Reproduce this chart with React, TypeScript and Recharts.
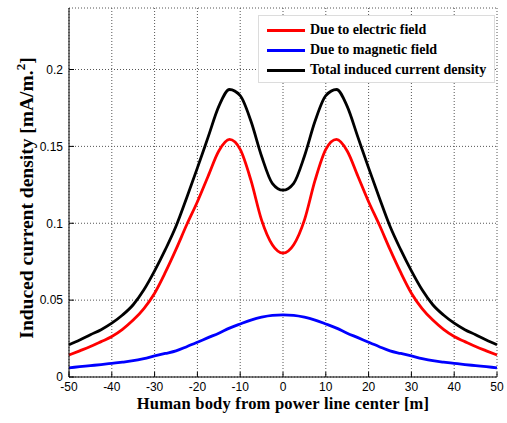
import {
  CartesianGrid,
  Legend,
  Line,
  LineChart,
  XAxis,
  YAxis,
} from "recharts";

const distances = [
  -50, -47.5, -45, -42.5, -40, -37.5, -35, -32.5, -30, -27.5, -25, -22.5, -20, -17.5, -15, -12.5, -10, -7.5, -5, -2.5,
  0, 2.5, 5, 7.5, 10, 12.5, 15, 17.5, 20, 22.5, 25, 27.5, 30, 32.5, 35, 37.5, 40, 42.5, 45, 47.5, 50,
];

const electricField = [
  0.0143, 0.017, 0.0198, 0.023, 0.0263, 0.031, 0.037, 0.0445, 0.0545, 0.068, 0.083, 0.099, 0.114, 0.1306, 0.147, 0.1545,
  0.148, 0.128, 0.102, 0.086, 0.0806, 0.086, 0.102, 0.128, 0.148, 0.1545, 0.147, 0.1306, 0.114, 0.099, 0.083, 0.068,
  0.0545, 0.0445, 0.037, 0.031, 0.0263, 0.023, 0.0198, 0.017, 0.0143,
];

const magneticField = [
  0.006, 0.0067, 0.0074, 0.0081, 0.0089, 0.0097, 0.0106, 0.012, 0.0137, 0.0153, 0.017, 0.0197, 0.0226, 0.0256, 0.0285,
  0.0318, 0.0345, 0.037, 0.0389, 0.0401, 0.0404, 0.0401, 0.0389, 0.037, 0.0345, 0.0318, 0.0285, 0.0256, 0.0226, 0.0197,
  0.017, 0.0153, 0.0137, 0.012, 0.0106, 0.0097, 0.0089, 0.0081, 0.0074, 0.0067, 0.006,
];

const totalDensity = [
  0.021, 0.024, 0.0275, 0.0308, 0.035, 0.0403, 0.047, 0.0567, 0.069, 0.0828, 0.098, 0.1166, 0.136, 0.156, 0.176, 0.187,
  0.183, 0.1665, 0.1436, 0.126, 0.1215, 0.126, 0.1436, 0.1665, 0.183, 0.187, 0.176, 0.156, 0.136, 0.1166, 0.098, 0.0828,
  0.069, 0.0567, 0.047, 0.0403, 0.035, 0.0308, 0.0275, 0.024, 0.021,
];

const xTicks = [-50, -40, -30, -20, -10, 0, 10, 20, 30, 40, 50];
const yTicks = [0, 0.05, 0.1, 0.15, 0.2];

const series = [
  { key: "electric", name: "Due to electric field", color: "#ff0000" },
  { key: "magnetic", name: "Due to magnetic field", color: "#0000ff" },
  { key: "total", name: "Total induced current density", color: "#000000" },
];

const data = distances.map((x, i) => ({
  x,
  electric: electricField[i],
  magnetic: magneticField[i],
  total: totalDensity[i],
}));

const serif = "'Liberation Serif', 'Times New Roman', serif";
const sans = "'Liberation Sans', Arial, sans-serif";
const tickStyle = { fill: "#000", fontSize: 12, fontFamily: sans };

function LegendBox() {
  return (
    <div
      style={{
        background: "#fff",
        border: "1px solid #dcdcdc",
        padding: "4px 0 0 8px",
        boxSizing: "border-box",
        width: 237,
        height: 68,
        textAlign: "left",
      }}
    >
      {series.map((s) => (
        <div key={s.key} style={{ display: "flex", alignItems: "center", height: 20 }}>
          <div style={{ width: 38, height: 3, background: s.color, marginRight: 5 }} />
          <span style={{ fontFamily: serif, fontWeight: "bold", fontSize: 14, color: "#000" }}>{s.name}</span>
        </div>
      ))}
    </div>
  );
}

function YLabel() {
  return (
    <text
      x={33}
      y={198}
      transform="rotate(-90, 33, 198)"
      textAnchor="middle"
      fontFamily={serif}
      fontWeight="bold"
      fontSize={19.5}
      fill="#000"
    >
      <tspan>Induced current density [mA/m.</tspan>
      <tspan dy={-8} fontSize={13}>2</tspan>
      <tspan dy={8}>]</tspan>
    </text>
  );
}

export default function App() {
  return (
    <div style={{ position: "absolute", left: 0, top: 0, background: "#fff" }}>
      <LineChart width={507} height={423} data={data} margin={{ top: 8, right: 10, left: 0, bottom: 0 }}>
        <CartesianGrid stroke="#555" strokeDasharray="1 2" />
        <XAxis
          dataKey="x"
          type="number"
          domain={[-50, 50]}
          ticks={xTicks}
          height={46}
          stroke="#000"
          tick={tickStyle}
          tickSize={-5}
          tickMargin={10}
          label={{
            value: "Human body from power line center [m]",
            position: "insideBottom",
            offset: 14,
            style: { fontFamily: serif, fontWeight: "bold", fontSize: 16.5, letterSpacing: 0.2, fill: "#000" },
          }}
        />
        <XAxis
          xAxisId="top"
          orientation="top"
          dataKey="x"
          type="number"
          domain={[-50, 50]}
          ticks={xTicks}
          height={0}
          stroke="#000"
          tickSize={-5}
          tickFormatter={() => ""}
        />
        <YAxis
          type="number"
          domain={[0, 0.24]}
          ticks={yTicks}
          width={69}
          stroke="#000"
          tick={tickStyle}
          tickSize={-5}
          tickMargin={11}
          tickFormatter={(v: number) => String(v)}
          label={<YLabel />}
        />
        <YAxis
          yAxisId="right"
          orientation="right"
          type="number"
          domain={[0, 0.24]}
          ticks={yTicks}
          width={0}
          stroke="#000"
          tickSize={-5}
          tickFormatter={() => ""}
        />
        <Legend
          layout="horizontal"
          verticalAlign="middle"
          align="center"
          content={<LegendBox />}
          wrapperStyle={{ position: "absolute", left: 258, top: 15, width: 237, height: 68 }}
        />
        {series.map((s) => (
          <Line
            key={s.key}
            type="monotone"
            dataKey={s.key}
            name={s.name}
            stroke={s.color}
            strokeWidth={2.8}
            dot={false}
            isAnimationActive={false}
          />
        ))}
      </LineChart>
    </div>
  );
}
